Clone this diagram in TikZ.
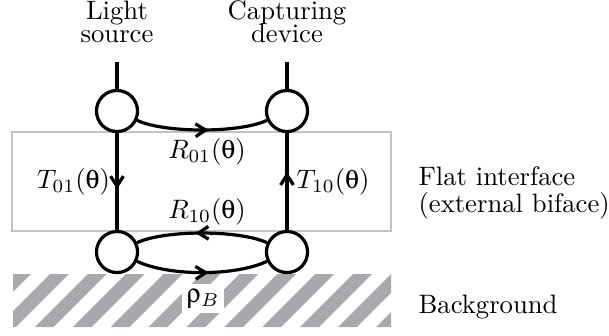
\documentclass[tikz,border=0pt]{standalone}
\usepackage{fontspec}
\usepackage[Symbol]{upgreek}
\usetikzlibrary{arrows.meta,decorations.markings}
\definecolor{hatchgray}{RGB}{167,169,172}
\definecolor{boxgray}{RGB}{195,195,195}
\newcommand{\tightlines}{\fontsize{10}{8.6}\selectfont\lineskiplimit-5pt\relax}
\begin{document}
\begin{tikzpicture}[x=0.375pt,y=0.375pt,
  ring/.style={circle,draw,line width=1.2pt,minimum size=15.4pt,inner sep=0pt},
  conn/.style={line width=1.2pt},
  midarrow/.style={postaction={decorate},decoration={markings,mark=at position #1 with {\arrow{Straight Barb[length=3.8pt,width=4.8pt,line width=1.2pt]}}}},
  midarrow/.default=0.55,
  toplbl/.style={inner sep=0pt,align=center,font=\tightlines},
  sidelbl/.style={inner sep=0pt,align=left,font=\fontsize{10}{10.1}\selectfont},
  mathlbl/.style={inner sep=0pt}]
\useasboundingbox (0,0) rectangle (609,-335);
% background hatch
\begin{scope}
  \clip (13,-274) rectangle (391,-327);
  \foreach \k in {-3,...,12}{
    \fill[hatchgray] ({-3+37.9*\k},-327) -- ++(18.8,0) -- ++(53,53) -- ++(-18.8,0) -- cycle;
  }
\end{scope}
% interface box
\draw[boxgray,line width=0.75pt] (12,-132) rectangle (391,-231);
% circles
\node[ring] (c1) at (117,-111) {};
\node[ring] (c2) at (287,-111) {};
\node[ring] (c3) at (117,-252) {};
\node[ring] (c4) at (287,-252) {};
\coordinate (s1) at (117,-62);
\coordinate (s2) at (287,-62);
% connectors
\draw[conn] (s1) -- (c1);
\draw[conn] (s2) -- (c2);
\draw[conn,midarrow=0.58] (c1) -- (c3);
\draw[conn,midarrow=0.6] (c4) -- (c2);
\draw[conn,midarrow] (c1) to[out=-25,in=205,looseness=0.6] (c2);
\draw[conn,midarrow] (c4) to[out=155,in=25,looseness=0.6] (c3);
\draw[conn,midarrow] (c3) to[out=-25,in=205,looseness=0.7] (c4);
% labels
\node[toplbl,anchor=south] (ls) at (117,-43) {Light\\source};
\node[toplbl,anchor=south] (cd) at (287,-43) {Capturing\\device};
\node[mathlbl,anchor=base] (t01) at (73.5,-188) {$T_{01}(\uptheta)$};
\node[mathlbl,anchor=base] (t10) at (333,-188) {$T_{10}(\uptheta)$};
\node[mathlbl,anchor=base] (r01) at (207,-158) {$R_{01}(\uptheta)$};
\node[mathlbl,anchor=base] (r10) at (207,-218) {$R_{10}(\uptheta)$};
\node[fill=white,inner sep=1.8pt,anchor=base] (rho) at (203,-302) {$\uprho_B$};
\node[sidelbl,anchor=south west] (fi) at (418,-219.7) {Flat interface\\(external biface)};
\node[sidelbl,anchor=base west] (bg) at (418,-313) {Background};
\end{tikzpicture}
\end{document}
